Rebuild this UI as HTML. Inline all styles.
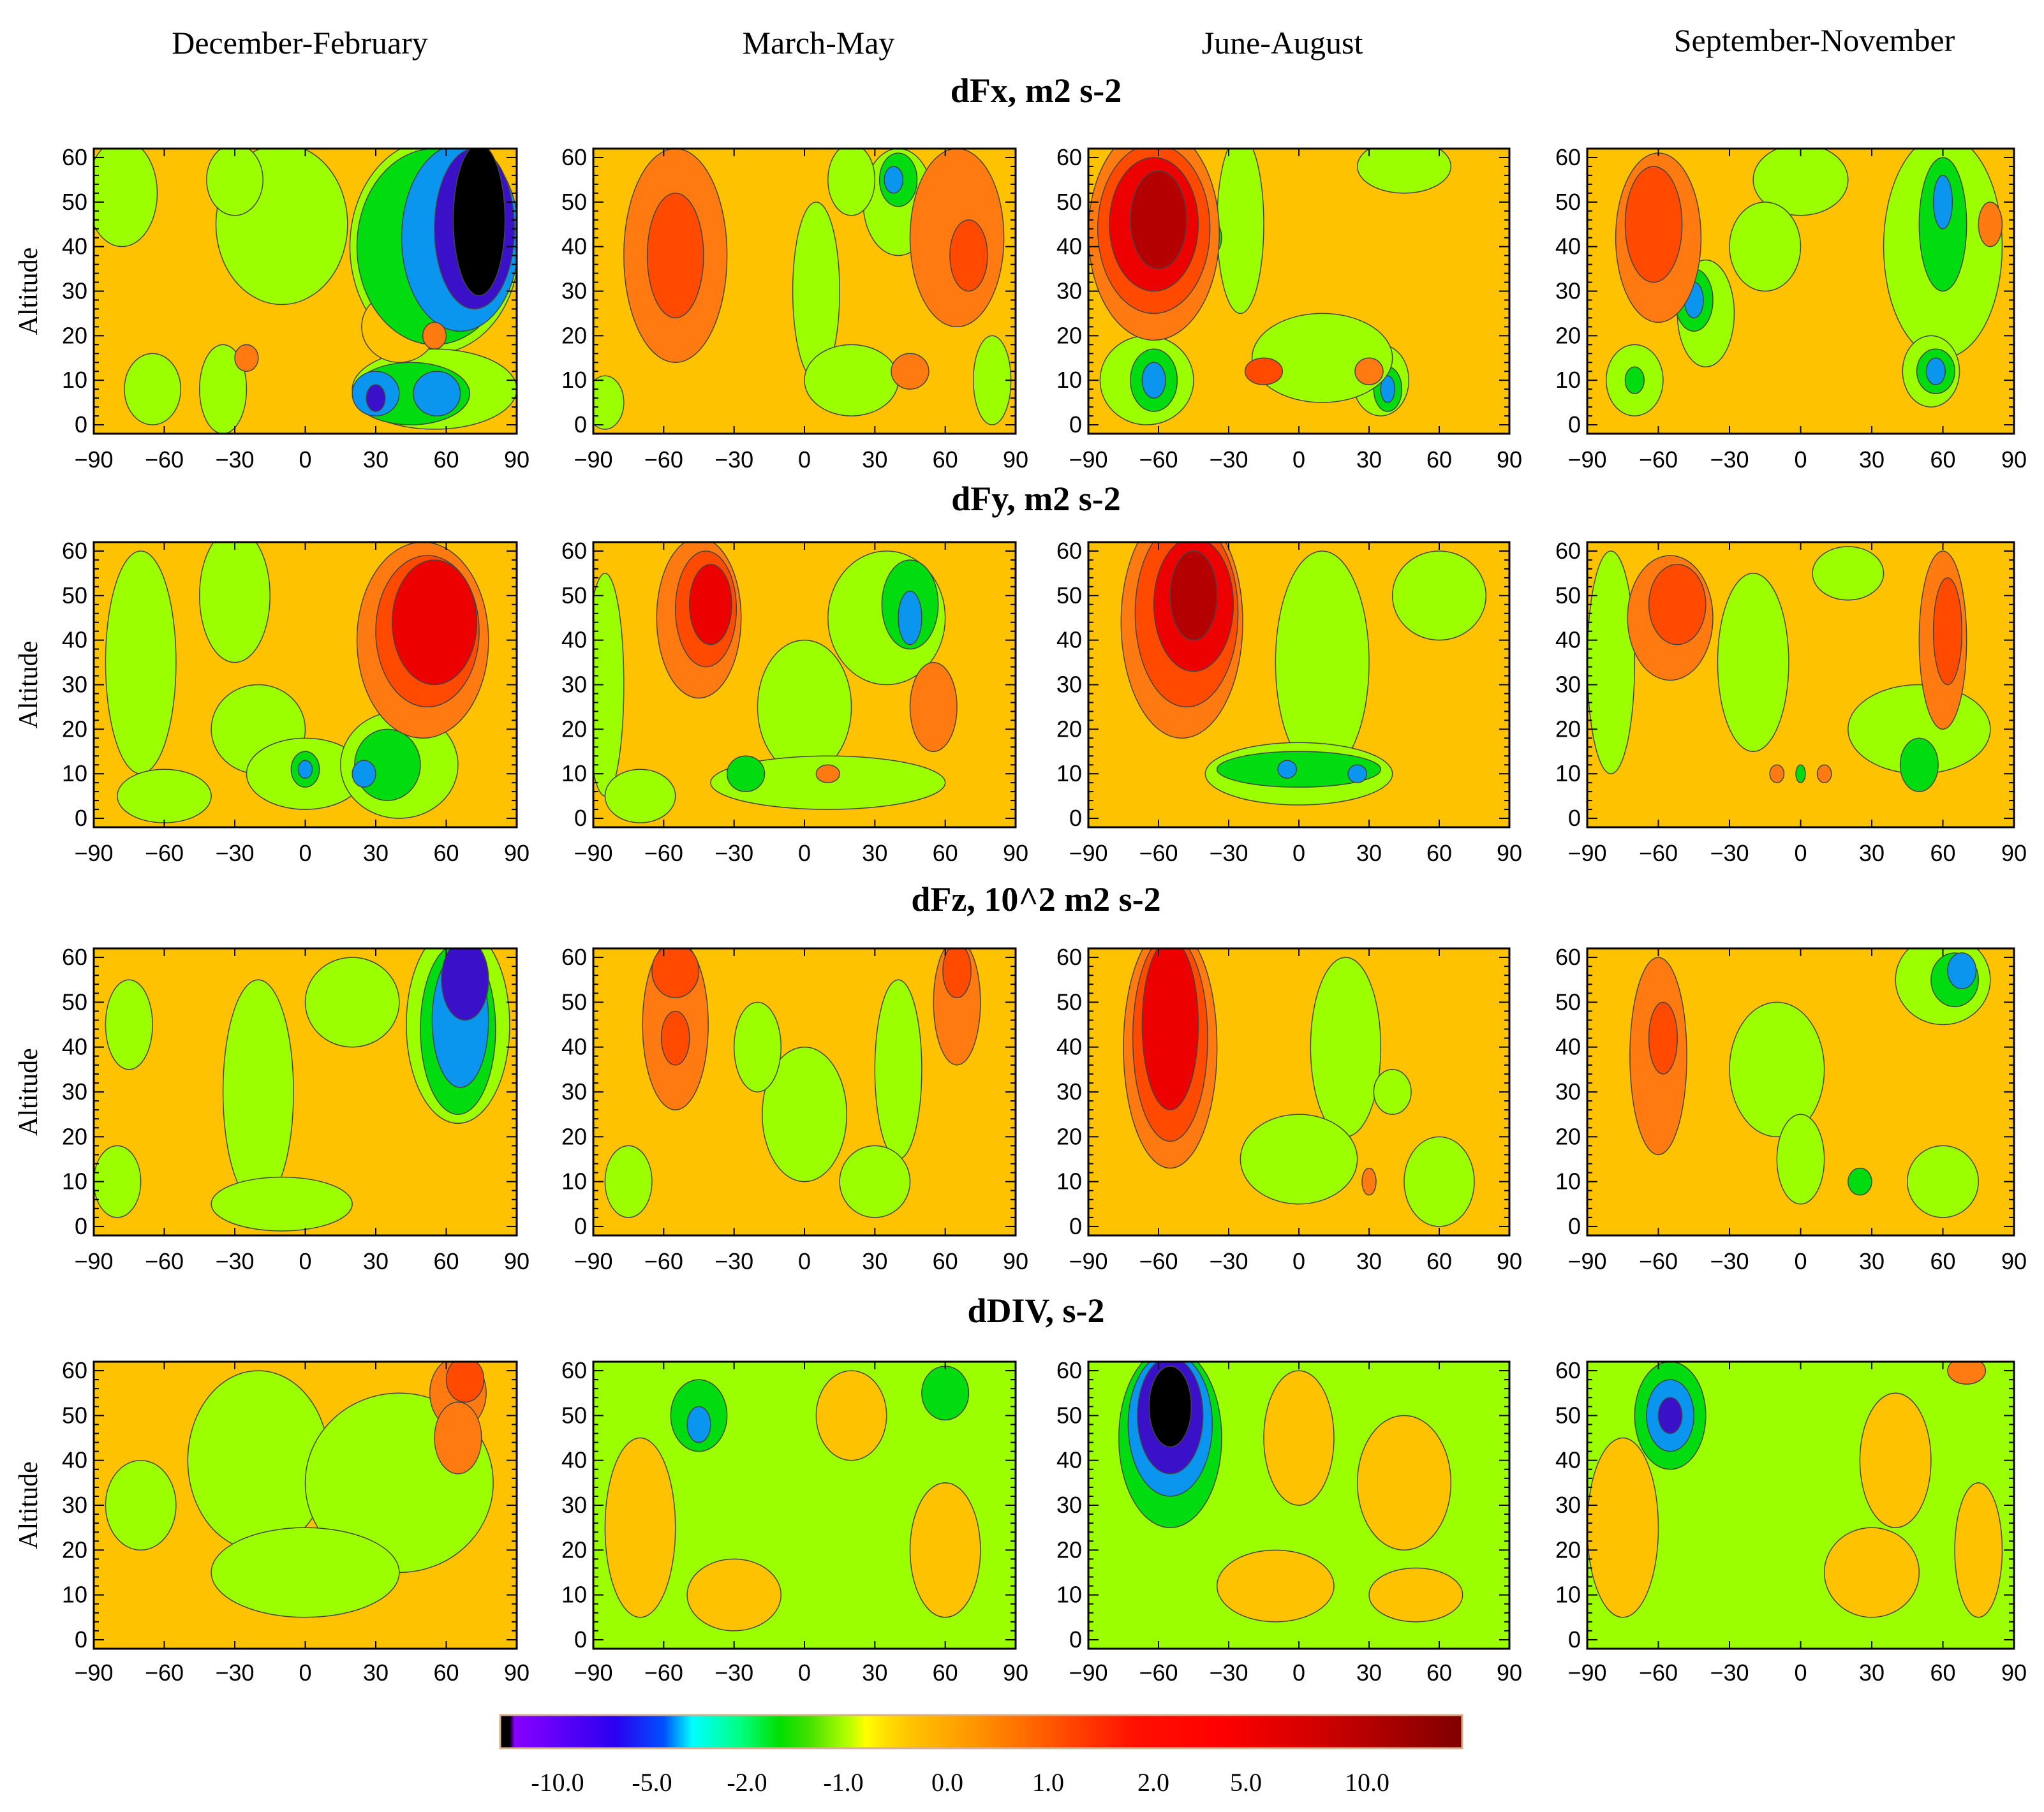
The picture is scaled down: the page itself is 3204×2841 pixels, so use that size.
<!DOCTYPE html>
<html><head><meta charset="utf-8">
<style>
html,body{margin:0;padding:0;background:#fff;}
svg{display:block;}
text{font-family:"Liberation Serif",serif;fill:#000;}
.tk{font-family:"Liberation Sans",sans-serif;font-size:36px;}
</style></head>
<body>
<svg id="fig" width="3204" height="2841" viewBox="0 0 3204 2841" xmlns="http://www.w3.org/2000/svg">
<text x="470" y="84" font-size="50" text-anchor="middle">December-February</text>
<text x="1283" y="84" font-size="50" text-anchor="middle">March-May</text>
<text x="2010" y="84" font-size="50" text-anchor="middle">June-August</text>
<text x="2844" y="80" font-size="50" text-anchor="middle">September-November</text>
<text x="1624" y="160" font-size="54" font-weight="bold" text-anchor="middle">dFx,  m2 s-2</text>
<text x="1624" y="800" font-size="54" font-weight="bold" text-anchor="middle">dFy,  m2 s-2</text>
<text x="1624" y="1428" font-size="54" font-weight="bold" text-anchor="middle">dFz,  10^2 m2 s-2</text>
<text x="1624" y="2073" font-size="54" font-weight="bold" text-anchor="middle">dDIV,  s-2</text>
<g id="panels"></g>
<g id="cbar"></g>
</svg>
<script>
const levelColors = {"-4":"#000000","-3":"#3a10c8","-2":"#0a96ee","-1":"#00dc10","0":"#9cff00","1":"#ffc200","2":"#ff7a10","3":"#ff4a00","4":"#ec0000","5":"#b40000"};
const xTicks = [-90,-60,-30,0,30,60,90];
const yTicks = [0,10,20,30,40,50,60];
const colX = [[147,810],[930,1592],[1706,2366],[2488,3157]];
const rowY = [[233,680],[850,1297],[1487,1937],[2135,2585]];
const xLabelY = [733,1350,1990,2635];
// blobs: [lat, alt, rx(deg), ry(km), level]
const panelBg = [[1,1,1,1],[1,1,1,1],[1,1,1,1],[1,0,0,0]];
const blobs = [
 [ // dFx
  [[-78,52,15,12,0],[-10,45,28,18,0],[-30,55,12,8,0],[-65,8,12,8,0],[-35,8,10,10,0],[55,40,36,24,0],[55,8,35,9,0],[40,22,16,8,1],[55,40,33,22,-1],[45,7,25,7,-1],[66,42,25,21,-2],[30,7,10,5,-2],[56,7,10,5,-2],[72,44,17,18,-3],[30,6,4,3,-3],[74,46,11,17,-4],[55,20,5,3,2],[-25,15,5,3,2]],
  [[-85,5,8,6,0],[5,30,10,20,0],[20,10,20,8,0],[40,50,15,12,0],[20,55,10,8,0],[80,10,8,10,0],[40,55,8,6,-1],[38,55,4,3,-2],[-55,38,22,24,2],[-55,38,12,14,3],[65,42,20,20,2],[70,38,8,8,3],[45,12,8,4,2]],
  [[-65,10,20,10,0],[-62,10,10,7,-1],[-62,10,5,4,-2],[35,10,12,8,0],[38,8,6,5,-1],[38,8,3,3,-2],[-25,45,10,20,0],[10,15,30,10,0],[45,58,20,6,0],[-38,42,5,4,-1],[-62,43,28,24,2],[-62,44,24,19,3],[-62,45,19,15,4],[-60,46,12,11,5],[-15,12,8,3,3],[30,12,6,3,2]],
  [[-40,25,12,12,0],[-45,28,8,7,-1],[-45,28,4,4,-2],[60,40,25,25,0],[60,45,10,15,-1],[60,50,4,6,-2],[55,12,12,8,0],[57,12,8,5,-1],[57,12,4,3,-2],[-70,10,12,8,0],[-70,10,4,3,-1],[0,55,20,8,0],[-15,40,15,10,0],[-60,42,18,19,2],[-62,45,12,13,3],[80,45,5,5,2]]
 ],
 [ // dFy
  [[-70,35,15,25,0],[-30,50,15,15,0],[-20,20,20,10,0],[0,10,25,8,0],[-60,5,20,6,0],[40,12,25,12,0],[35,12,14,8,-1],[25,10,5,3,-2],[0,11,6,4,-1],[0,11,3,2,-2],[50,40,28,22,2],[52,42,22,17,3],[55,44,18,14,4]],
  [[-85,30,8,25,0],[0,25,20,15,0],[10,8,50,6,0],[-25,10,8,4,-1],[-70,5,15,6,0],[35,45,25,15,0],[45,48,12,10,-1],[45,45,5,6,-2],[55,25,10,10,2],[10,10,5,2,2],[-45,45,18,18,2],[-42,47,13,13,3],[-40,48,9,9,4]],
  [[10,35,20,25,0],[0,10,40,7,0],[0,11,35,4,-1],[-5,11,4,2,-2],[25,10,4,2,-2],[60,50,20,10,0],[-50,44,26,26,2],[-48,46,22,21,3],[-45,48,17,15,4],[-45,50,10,10,5]],
  [[-80,35,10,25,0],[-20,35,15,20,0],[50,20,30,10,0],[50,12,8,6,-1],[20,55,15,6,0],[-55,45,18,14,2],[-52,48,12,9,3],[60,40,10,20,2],[62,42,6,12,3],[-10,10,3,2,2],[10,10,3,2,2],[0,10,2,2,-1]]
 ],
 [ // dFz
  [[-20,30,15,25,0],[-80,10,10,8,0],[-10,5,30,6,0],[20,50,20,10,0],[-75,45,10,10,0],[65,45,22,22,0],[65,44,16,19,-1],[66,46,12,15,-2],[68,55,10,9,-3]],
  [[0,25,18,15,0],[-20,40,10,10,0],[40,35,10,20,0],[30,10,15,8,0],[-75,10,10,8,0],[-55,45,14,19,2],[-55,42,6,6,3],[-55,57,10,6,3],[65,50,10,14,2],[65,57,6,6,3]],
  [[20,40,15,20,0],[0,15,25,10,0],[60,10,15,10,0],[40,30,8,5,0],[-55,40,20,27,2],[-55,42,16,23,3],[-55,45,12,19,4],[30,10,3,3,2]],
  [[-10,35,20,15,0],[0,15,10,10,0],[60,55,20,10,0],[65,55,10,6,-1],[68,57,6,4,-2],[25,10,5,3,-1],[60,10,15,8,0],[-60,38,12,22,2],[-58,42,6,8,3]]
 ],
 [ // dDIV
  [[-20,40,30,20,0],[40,35,40,20,0],[0,15,40,10,0],[-70,30,15,10,0],[65,55,12,8,2],[68,58,8,5,3],[65,45,10,8,2]],
  [[-70,25,15,20,1],[20,50,15,10,1],[-30,10,20,8,1],[60,20,15,15,1],[-45,50,12,8,-1],[-45,48,5,4,-2],[60,55,10,6,-1]],
  [[0,45,15,15,1],[45,35,20,15,1],[-10,12,25,8,1],[50,10,20,6,1],[-55,45,22,20,-1],[-55,48,18,16,-2],[-55,50,14,13,-3],[-55,52,9,9,-4]],
  [[-75,25,15,20,1],[40,40,15,15,1],[30,15,20,10,1],[75,20,10,15,1],[-55,50,15,12,-1],[-55,50,10,8,-2],[-55,50,5,4,-3],[70,60,8,3,2]]
 ]
];
const cbarLabels = ["-10.0","-5.0","-2.0","-1.0","0.0","1.0","2.0","5.0","10.0"];
const cbarLabelX = [874,1022,1171,1322,1485,1643,1808,1953,2143];

const NS="http://www.w3.org/2000/svg";
function mk(tag,attrs,parent){const e=document.createElementNS(NS,tag);for(const k in attrs)e.setAttribute(k,attrs[k]);parent.appendChild(e);return e;}
const root=document.getElementById('panels');
const seasons=['djf','mam','jja','son'],vars=['dfx','dfy','dfz','ddiv'];
for(let r=0;r<4;r++)for(let c=0;c<4;c++){
  const [x0,x1]=colX[c],[y0,y1]=rowY[r];
  const sx=v=>x0+(v+90)/180*(x1-x0);
  const sy=v=>y1-(v+2)/64*(y1-y0);
  const g=mk('g',{},root);
  
  
  const cid='clip'+r+c;
  const cp=mk('clipPath',{id:cid},g);mk('rect',{x:x0,y:y0,width:x1-x0,height:y1-y0},cp);
  const bg=mk('rect',{x:x0,y:y0,width:x1-x0,height:y1-y0,fill:levelColors[panelBg[r][c]]},g);
  
  
  const cg=mk('g',{'clip-path':'url(#'+cid+')'},g);
  blobs[r][c].forEach(b=>{
    const e=mk('ellipse',{cx:sx(b[0]),cy:sy(b[1]),rx:b[2]/180*(x1-x0),ry:b[3]/64*(y1-y0),fill:levelColors[b[4]],stroke:'#444',"stroke-width":1.5},cg);
    
    
  });
  mk('rect',{x:x0,y:y0,width:x1-x0,height:y1-y0,fill:'none',stroke:'#000','stroke-width':3},g);
  xTicks.forEach(t=>{
    mk('line',{x1:sx(t),x2:sx(t),y1:y1,y2:y1-12,stroke:'#000','stroke-width':2},g);
    mk('line',{x1:sx(t),x2:sx(t),y1:y0,y2:y0+12,stroke:'#000','stroke-width':2},g);
    const tx=mk('text',{x:sx(t),y:xLabelY[r],'text-anchor':'middle',class:'tk'},g);
    tx.textContent=(t<0?'\u2212'+(-t):t);
    
    
  });
  for(let v=0;v<=60;v+=2){
    mk('line',{x1:x0,x2:x0+(v%10?8:16),y1:sy(v),y2:sy(v),stroke:'#000','stroke-width':2},g);
    mk('line',{x1:x1,x2:x1-(v%10?8:16),y1:sy(v),y2:sy(v),stroke:'#000','stroke-width':2},g);
  }
  yTicks.forEach(t=>{
    const ty=mk('text',{x:x0-10,y:sy(t)+12,'text-anchor':'end',class:'tk'},g);
    ty.textContent=t;
    
    
  });
  if(c===0){
    const yc=(y0+y1)/2;
    const at=mk('text',{x:58,y:yc,'font-size':42,'text-anchor':'middle',transform:'rotate(-90 58 '+yc+')'},g);
    at.textContent='Altitude';
    
    
  }
}
const cb=document.getElementById('cbar');
const defs=mk('defs',{},cb);
const lg=mk('linearGradient',{id:'cbg',x1:0,x2:1,y1:0,y2:0},defs);
[[0,'#000'],[0.01,'#000'],[0.015,'#8800ff'],[0.12,'#2a00f0'],[0.17,'#0050ff'],[0.2,'#00ffff'],[0.25,'#00ff80'],[0.29,'#00e000'],[0.32,'#40e000'],[0.36,'#b0ff00'],[0.38,'#ffff00'],[0.4,'#ffe000'],[0.43,'#ffc000'],[0.5,'#ff9000'],[0.58,'#ff5000'],[0.66,'#ff1000'],[0.75,'#ff0000'],[0.85,'#d00000'],[1,'#800000']].forEach(s=>mk('stop',{offset:s[0],'stop-color':s[1]},lg));
mk('rect',{x:784,y:2689,width:1508,height:52,fill:'url(#cbg)',stroke:'#d8b090','stroke-width':3},cb);
cbarLabels.forEach((l,i)=>{
  const t=mk('text',{x:cbarLabelX[i],y:2808,'font-size':40,'text-anchor':'middle'},cb);
  t.textContent=l;
  
  
});
</script>
</body></html>
